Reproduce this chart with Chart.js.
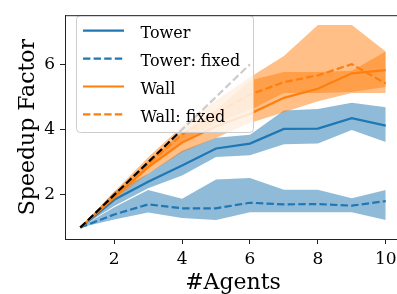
<!DOCTYPE html>
<html>
<head>
<meta charset="utf-8">
<script src="https://cdn.jsdelivr.net/npm/chart.js@4.4.0/dist/chart.umd.min.js"></script>
<style>
  html, body { margin: 0; padding: 0; background: #fff; overflow: hidden; }
  #wrap { position: relative; width: 404px; height: 294px; }
</style>
</head>
<body>
<div id="wrap"><canvas id="speedupChart"></canvas></div>
<script>
// number of agents on the x axis
const agents = [1, 2, 3, 4, 5, 6, 7, 8, 9, 10];

// Tower
const towerMean = [1, 1.85, 2.4, 2.9, 3.42, 3.57, 4.02, 4.03, 4.35, 4.12];
const towerLow  = [1, 1.66, 2.2, 2.59, 3.16, 3.21, 3.55, 3.57, 3.99, 3.62];
const towerHigh = [1, 2.1, 2.65, 3.35, 3.75, 3.84, 4.58, 4.63, 4.82, 4.68];

// Tower: fixed
const towerFixedMean = [1, 1.4, 1.71, 1.59, 1.59, 1.76, 1.71, 1.72, 1.67, 1.81];
const towerFixedLow  = [1, 1.25, 1.46, 1.29, 1.23, 1.47, 1.47, 1.47, 1.47, 1.23];
const towerFixedHigh = [1, 1.62, 2.15, 1.88, 2.47, 2.52, 2.16, 2.16, 1.9, 2.15];

// Wall
const wallMean = [1, 1.93, 2.85, 3.6, 4.1, 4.48, 4.97, 5.25, 5.72, 5.82];
const wallLow  = [1, 1.85, 2.65, 3.3, 3.75, 4.2, 4.53, 4.87, 5.12, 5.12];
const wallHigh = [1, 2.05, 3.05, 3.9, 4.6, 5.5, 5.76, 5.76, 5.8, 6.39];

// Wall: fixed
const wallFixedMean = [1, 1.98, 2.95, 3.85, 4.5, 5.07, 5.45, 5.66, 6.0, 5.41];
const wallFixedLow  = [1, 1.9, 2.8, 3.6, 4.2, 4.6, 5.12, 5.12, 5.15, 5.3];
const wallFixedHigh = [1, 2.1, 3.15, 4.1, 4.9, 5.6, 6.25, 7.2, 7.2, 6.39];

// ideal linear speedup
const idealX = [1, 2, 3, 4, 5, 6];
const idealY = [1, 2, 3, 4, 5, 6];

const seriesNames = ['Tower', 'Tower: fixed', 'Wall', 'Wall: fixed'];
const xTicks = [2, 4, 6, 8, 10];
const yTicks = [2, 4, 6];

const blue = '#1f77b4';
const orange = '#ff7f0e';
const blueBand = 'rgba(31, 119, 180, 0.5)';
const orangeBand = 'rgba(255, 127, 14, 0.5)';
const dash = [7.4, 3.2];
const serif = '"DejaVu Serif", serif';

function pts(xs, ys) {
    return xs.map((x, i) => ({ x: x, y: ys[i] }));
}

function line(label, ys, color, dashed) {
    return {
        label: label,
        data: pts(agents, ys),
        borderColor: color,
        borderWidth: 2.2,
        borderDash: dashed ? dash : [],
        pointRadius: 0,
        fill: false,
        tension: 0
    };
}

// upper edge fills down to the lower edge that follows it
function band(high, low, color) {
    return [
        { data: pts(agents, high), borderWidth: 0, pointRadius: 0, backgroundColor: color, fill: '+1' },
        { data: pts(agents, low), borderWidth: 0, pointRadius: 0, fill: false }
    ];
}

// first dataset is drawn on top
const datasets = [
    {
        data: pts(idealX, idealY),
        borderColor: '#000',
        borderWidth: 2.2,
        borderDash: dash,
        pointRadius: 0,
        fill: false
    },
    line(seriesNames[3], wallFixedMean, orange, true),
    ...band(wallFixedHigh, wallFixedLow, orangeBand),
    line(seriesNames[2], wallMean, orange, false),
    ...band(wallHigh, wallLow, orangeBand),
    line(seriesNames[1], towerFixedMean, blue, true),
    ...band(towerFixedHigh, towerFixedLow, blueBand),
    line(seriesNames[0], towerMean, blue, false),
    ...band(towerHigh, towerLow, blueBand)
];

const legendEntries = [
    { text: seriesNames[0], color: blue, dashed: false },
    { text: seriesNames[1], color: blue, dashed: true },
    { text: seriesNames[2], color: orange, dashed: false },
    { text: seriesNames[3], color: orange, dashed: true }
];

// legend box drawn over the data, like matplotlib's semi-transparent frame
const overlayLegend = {
    id: 'overlayLegend',
    afterDatasetsDraw(chart) {
        const ctx = chart.ctx;
        ctx.save();
        ctx.beginPath();
        ctx.roundRect(76.5, 15.5, 177, 117, 4);
        ctx.fillStyle = 'rgba(255, 255, 255, 0.8)';
        ctx.fill();
        ctx.strokeStyle = '#cccccc';
        ctx.lineWidth = 1;
        ctx.stroke();

        ctx.font = '16px ' + serif;
        ctx.textBaseline = 'alphabetic';
        ctx.textAlign = 'left';
        legendEntries.forEach((e, i) => {
            const y = 30.7 + i * 27.9;
            ctx.beginPath();
            ctx.setLineDash(e.dashed ? dash : []);
            ctx.strokeStyle = e.color;
            ctx.lineWidth = 2.2;
            ctx.moveTo(83, y);
            ctx.lineTo(124, y);
            ctx.stroke();
            ctx.setLineDash([]);
            ctx.fillStyle = '#000';
            ctx.fillText(e.text, 140.5, y + 7.2);
        });
        ctx.restore();
    },
    afterDraw(chart) {
        // top spine
        const { ctx, chartArea } = chart;
        ctx.save();
        ctx.strokeStyle = '#222';
        ctx.lineWidth = 1;
        ctx.beginPath();
        ctx.moveTo(chartArea.left, chartArea.top + 0.5);
        ctx.lineTo(chartArea.right, chartArea.top + 0.5);
        ctx.stroke();
        ctx.restore();
    }
};

const ctx = document.getElementById('speedupChart').getContext('2d');
new Chart(ctx, {
    type: 'line',
    data: { datasets: datasets },
    options: {
        responsive: true,
        maintainAspectRatio: false,
        animation: false,
        events: [],
        layout: { padding: { top: 5, right: 3, left: 0, bottom: 0 } },
        plugins: {
            legend: { display: false },
            tooltip: { enabled: false },
            filler: { propagate: false }
        },
        scales: {
            x: {
                type: 'linear',
                min: 0.55,
                max: 10.45,
                afterFit: (scale) => { scale.height = 55; },
                afterBuildTicks: (scale) => { scale.ticks = xTicks.map(v => ({ value: v })); },
                ticks: {
                    padding: 5,
                    color: '#000',
                    font: { family: serif, size: 17 }
                },
                grid: { drawOnChartArea: false, tickLength: 5, tickColor: '#222', tickWidth: 1 },
                border: { display: true, color: '#222', width: 1 },
                title: {
                    display: true,
                    text: '#Agents',
                    color: '#000',
                    font: { family: serif, size: 22, lineHeight: 0.85 },
                    padding: { top: 0, bottom: 1 }
                }
            },
            y: {
                type: 'linear',
                min: 0.65,
                max: 7.5,
                afterFit: (scale) => { scale.width = 65; },
                afterBuildTicks: (scale) => { scale.ticks = yTicks.map(v => ({ value: v })); },
                ticks: {
                    padding: 5,
                    color: '#000',
                    font: { family: serif, size: 17 }
                },
                grid: { drawOnChartArea: false, tickLength: 5, tickColor: '#222', tickWidth: 1 },
                border: { display: true, color: '#222', width: 1 },
                title: {
                    display: true,
                    text: 'Speedup Factor',
                    color: '#000',
                    font: { family: serif, size: 22, lineHeight: 1 },
                    padding: { top: 17, bottom: 0 }
                }
            }
        }
    },
    plugins: [overlayLegend]
});
</script>
</body>
</html>
